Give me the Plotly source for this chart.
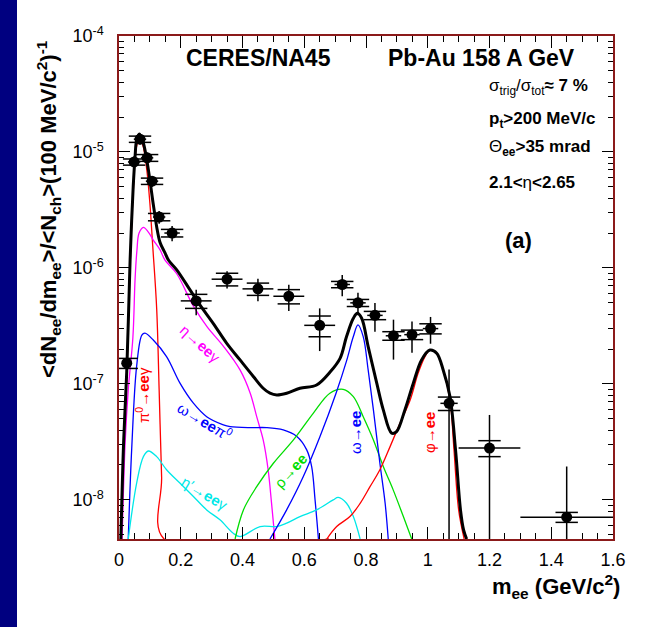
import plotly.graph_objects as go

# ---------------- data ----------------
FLOOR = 4.6e-9  # lower edge of the y range; curves at this level run along the frame

# measured dielectron yield
M_EE = [0.025, 0.049, 0.068, 0.091, 0.107, 0.130, 0.172, 0.25, 0.35, 0.45, 0.55, 0.65,
        0.723, 0.774, 0.829, 0.889, 0.949, 1.009, 1.069, 1.20, 1.45]
DM = [0.008, 0.02, 0.02, 0.02, 0.02, 0.02, 0.025, 0.05, 0.05, 0.05, 0.05, 0.05,
      0.025, 0.025, 0.025, 0.025, 0.025, 0.025, 0.028, 0.10, 0.15]
YIELD = [1.51e-7, 8.2e-6, 1.29e-5, 8.9e-6, 5.6e-6, 2.75e-6, 2.0e-6, 5.2e-7, 8.0e-7, 6.6e-7,
         5.7e-7, 3.2e-7, 7.2e-7, 5.0e-7, 3.9e-7, 2.6e-7, 2.66e-7, 3.0e-7, 6.8e-8, 2.8e-8, 7.1e-9]
STAT = [0.32e-7, 1.0e-6, 1.3e-6, 1.0e-6, 0.6e-6, 0.35e-6, 0.3e-6, 1.3e-7, 1.35e-7, 1.45e-7,
        1.45e-7, 1.28e-7, 1.5e-7, 1.1e-7, 1.08e-7, 0.98e-7, 0.8e-7, 0.78e-7, 6.5e-8, 2.6e-8, 1.23e-8]
SYST = [0.15e-7, 0.5e-6, 0.8e-6, 0.6e-6, 0.35e-6, 0.2e-6, 0.15e-6, 0.72e-7, 1.0e-7, 0.8e-7,
        0.8e-7, 0.65e-7, 0.45e-7, 0.35e-7, 0.32e-7, 0.22e-7, 0.25e-7, 0.3e-7, 0.9e-8, 0.44e-8, 0.7e-9]

# hadronic cocktail: total
TOT_M = [0.006, 0.015, 0.025, 0.036, 0.041, 0.046, 0.052, 0.057, 0.066, 0.079, 0.090, 0.100,
         0.109, 0.117, 0.122, 0.133, 0.149, 0.160, 0.187, 0.230, 0.262, 0.305, 0.349, 0.392,
         0.435, 0.467, 0.489, 0.511, 0.543, 0.586, 0.640, 0.683, 0.716, 0.737, 0.759, 0.772,
         0.786, 0.807, 0.835, 0.856, 0.883, 0.899, 0.926, 0.953, 0.980, 1.007, 1.029, 1.050,
         1.072, 1.090, 1.106, 1.116, 1.126]
TOT_Y = [FLOOR, 3.16e-8, 1.26e-7, 1.17e-6, 2.57e-6, 5.01e-6, 9.12e-6, 1.26e-5, 1.43e-5, 1.19e-5,
         8.53e-6, 5.74e-6, 3.85e-6, 2.77e-6, 2.27e-6, 1.66e-6, 1.35e-6, 1.17e-6, 9.62e-7, 6.46e-7,
         4.80e-7, 3.33e-7, 2.24e-7, 1.61e-7, 1.16e-7, 9.18e-8, 8.32e-8, 8.04e-8, 8.32e-8, 9.18e-8,
         9.79e-8, 1.26e-7, 1.66e-7, 2.56e-7, 3.68e-7, 4.06e-7, 3.68e-7, 2.10e-7, 1.01e-7, 5.97e-8,
         3.76e-8, 3.88e-8, 5.97e-8, 1.01e-7, 1.61e-7, 1.96e-7, 1.84e-7, 1.32e-7, 7.78e-8, 2.70e-8,
         8.20e-9, 5.51e-9, FLOOR]

# pi0 -> ee gamma
PI0_M = [0.006, 0.015, 0.025, 0.036, 0.046, 0.057, 0.066, 0.077, 0.090, 0.100, 0.109, 0.122,
         0.130, 0.138, 0.146, 0.68]
PI0_Y = [FLOOR, 2.51e-8, 1.12e-7, 1.05e-6, 4.47e-6, 1.12e-5, 1.29e-5, 1.15e-5, 7.00e-6, 3.61e-6,
         1.58e-6, 4.47e-7, 8.91e-8, 1.58e-8, FLOOR, FLOOR]

# eta -> ee gamma
ETA_M = [0.010, 0.020, 0.030, 0.045, 0.052, 0.058, 0.065, 0.079, 0.095, 0.111, 0.133, 0.149,
         0.187, 0.241, 0.285, 0.339, 0.392, 0.425, 0.446, 0.467, 0.483, 0.494, 0.505]
ETA_Y = [FLOOR, 3.16e-8, 8.91e-8, 2.51e-7, 7.94e-7, 1.41e-6, 2.00e-6, 2.24e-6, 2.04e-6, 1.74e-6,
         1.43e-6, 1.17e-6, 8.91e-7, 4.68e-7, 3.12e-7, 2.10e-7, 1.32e-7, 8.32e-8, 5.22e-8, 3.29e-8,
         1.82e-8, 9.42e-9, FLOOR]

# omega -> ee pi0
OMD_M = [0.030, 0.041, 0.057, 0.074, 0.084, 0.111, 0.154, 0.198, 0.241, 0.284, 0.338, 0.360,
         0.424, 0.478, 0.532, 0.576, 0.608, 0.624, 0.635, 0.646]
OMD_Y = [FLOOR, 2.70e-8, 1.41e-7, 2.64e-7, 2.74e-7, 2.39e-7, 1.72e-7, 1.01e-7, 6.82e-8, 5.22e-8,
         4.44e-8, 4.29e-8, 4.20e-8, 4.20e-8, 4.01e-8, 3.52e-8, 2.70e-8, 1.94e-8, 1.0e-8, FLOOR]

# eta' -> ee gamma
ETAP_M = [0.030, 0.057, 0.079, 0.095, 0.122, 0.154, 0.198, 0.241, 0.284, 0.327, 0.370, 0.392,
          0.457, 0.511, 0.543, 0.586, 0.640, 0.694, 0.710, 0.737, 0.759, 0.781]
ETAP_Y = [FLOOR, 1.39e-8, 2.36e-8, 2.64e-8, 2.36e-8, 1.82e-8, 1.39e-8, 1.07e-8, 8.20e-9, 6.73e-9,
          5.16e-9, 4.83e-9, 5.89e-9, 5.89e-9, 6.30e-9, 7.18e-9, 8.20e-9, 1.0e-8, 1.05e-8, 9.35e-9,
          7.18e-9, FLOOR]

# rho -> ee
RHO_M = [0.376, 0.403, 0.446, 0.500, 0.565, 0.629, 0.683, 0.726, 0.759, 0.791, 0.824, 0.856,
         0.888, 0.921, 0.948]
RHO_Y = [FLOOR, 8.20e-9, 1.30e-8, 2.07e-8, 3.29e-8, 5.58e-8, 8.32e-8, 8.99e-8, 7.78e-8, 5.22e-8,
         3.29e-8, 1.94e-8, 1.22e-8, 7.18e-9, FLOOR]

# omega -> ee
OMEE_M = [0.489, 0.543, 0.597, 0.651, 0.703, 0.737, 0.759, 0.774, 0.791, 0.807, 0.824, 0.845,
          0.862, 0.872]
OMEE_Y = [FLOOR, 8.20e-9, 1.59e-8, 3.52e-8, 8.32e-8, 1.58e-7, 2.56e-7, 3.23e-7, 2.56e-7, 1.32e-7,
          5.97e-8, 2.07e-8, 9.35e-9, FLOOR]

# phi -> ee
PHI_M = [0.673, 0.705, 0.748, 0.781, 0.813, 0.845, 0.878, 0.910, 0.943, 0.969, 0.991, 1.007,
         1.029, 1.050, 1.072, 1.085, 1.100, 1.118]
PHI_Y = [FLOOR, 5.89e-9, 7.18e-9, 9.33e-9, 1.30e-8, 1.82e-8, 2.88e-8, 4.58e-8, 7.28e-8, 1.24e-7,
         1.72e-7, 1.96e-7, 1.84e-7, 1.32e-7, 7.28e-8, 2.70e-8, 8.20e-9, FLOOR]

X_TICKS = [0, 0.2, 0.4, 0.6, 0.8, 1.0, 1.2, 1.4, 1.6]
X_TICK_TEXT = ["0", "0.2", "0.4", "0.6", "0.8", "1", "1.2", "1.4", "1.6"]
Y_DECADES = [-8, -7, -6, -5, -4]

# ---------------- styling ----------------
RED, MAGENTA, BLUE, CYAN, GREEN = "#ff0000", "#ff00ff", "#0000ff", "#00e8e8", "#00dd00"
NAVY = "#000080"
FRAME = "#8b1a1a"
FONT = "Liberation Sans, Arial, Helvetica, sans-serif"

W, H = 669, 627
ML, MR, MT, MB = 119, 56, 36, 88
PW, PH = W - ML - MR, H - MT - MB

fig = go.Figure()

components = [
    (PI0_M, PI0_Y, RED),
    (ETA_M, ETA_Y, MAGENTA),
    (OMD_M, OMD_Y, BLUE),
    (ETAP_M, ETAP_Y, CYAN),
    (RHO_M, RHO_Y, GREEN),
    (OMEE_M, OMEE_Y, BLUE),
    (PHI_M, PHI_Y, RED),
]
for xs, ys, col in components:
    fig.add_trace(go.Scatter(x=xs, y=ys, mode="lines", line=dict(color=col, width=1.3),
                             line_shape="spline", hoverinfo="skip", showlegend=False))

fig.add_trace(go.Scatter(x=TOT_M, y=TOT_Y, mode="lines", line=dict(color="black", width=3),
                         line_shape="spline", showlegend=False))

# systematic error caps
sys_hi = [y + s for y, s in zip(YIELD, SYST)]
sys_lo = [y - s for y, s in zip(YIELD, SYST)]
for ys in (sys_hi, sys_lo):
    fig.add_trace(go.Scatter(x=M_EE, y=ys, mode="markers", showlegend=False,
                             marker=dict(symbol="line-ew", size=16, color="black",
                                         line=dict(color="black", width=1.5))))

# data points with statistical errors and bin widths
fig.add_trace(go.Scatter(
    x=M_EE, y=YIELD, mode="markers", showlegend=False,
    marker=dict(symbol="circle", size=11, color="black"),
    error_y=dict(type="data", array=STAT, width=0, thickness=1.5, color="black"),
    error_x=dict(type="data", array=DM, width=0, thickness=1.5, color="black"),
))

# ---------------- axes ----------------
minor_y = [k * 10.0 ** e for e in range(-9, -4) for k in range(2, 10)]
fig.update_xaxes(
    range=[0, 1.6], tickmode="array", tickvals=X_TICKS, ticktext=X_TICK_TEXT,
    showline=True, linecolor=FRAME, linewidth=1.5, mirror="allticks",
    ticks="inside", ticklen=12, tickcolor="black", tickwidth=1,
    minor=dict(dtick=0.05, tick0=0, ticks="inside", ticklen=6, tickcolor="black", tickwidth=1),
    showgrid=False, zeroline=False,
    tickfont=dict(family=FONT, size=18, color="black"), ticklabelstandoff=4,
)
fig.update_yaxes(
    type="log", range=[-8.3372, -4],
    tickmode="array", tickvals=[10.0 ** d for d in Y_DECADES],
    ticktext=[f"10<sup>{d}</sup>" for d in Y_DECADES],
    showline=True, linecolor=FRAME, linewidth=1.5, mirror="allticks",
    ticks="inside", ticklen=11, tickcolor="black", tickwidth=1,
    minor=dict(tickmode="array", tickvals=minor_y, ticks="inside", ticklen=5,
               tickcolor="black", tickwidth=1),
    showgrid=False, zeroline=False,
    tickfont=dict(family=FONT, size=18, color="black"), ticklabelstandoff=10,
)

# ---------------- text ----------------
annotations = [
    dict(x=0.2834, y=0.9563, text="<b>CERES/NA45</b>", size=23),
    dict(x=0.7328, y=0.9563, text="<b>Pb-Au 158 A GeV</b>", size=23),
    dict(x=0.745, y=0.8986, text="σ<sub>trig</sub>/σ<sub>tot</sub><b>≈ 7 %</b>", size=17, xanchor="left"),
    dict(x=0.745, y=0.833, text="<b>p<sub>t</sub>&gt;200 MeV/c</b>", size=17, xanchor="left"),
    dict(x=0.745, y=0.7773, text="Θ<b><sub>ee</sub>&gt;35 mrad</b>", size=17, xanchor="left"),
    dict(x=0.745, y=0.7078, text="<b>2.1&lt;</b>η<b>&lt;2.65</b>", size=17, xanchor="left"),
    dict(x=0.8077, y=0.5944, text="<b>(a)</b>", size=22),
    # curve labels
    dict(x=0.164, y=0.3877, text="η→<b>ee</b>γ", size=15, color=MAGENTA, angle=42),
    dict(x=0.0486, y=0.2863, text="π<sup>0</sup>→<b>ee</b>γ", size=15, color=RED, angle=-90),
    dict(x=0.174, y=0.2346, text="ω→<b>ee</b>π<sup>0</sup>", size=15, color=BLUE, angle=31),
    dict(x=0.174, y=0.0895, text="η′→<b>ee</b>γ", size=15, color=CYAN, angle=31),
    dict(x=0.348, y=0.1352, text="ρ→<b>ee</b>", size=15, color=GREEN, angle=-48),
    dict(x=0.4777, y=0.2127, text="ω→<b>ee</b>", size=15, color=BLUE, angle=-90),
    dict(x=0.6275, y=0.2127, text="φ→<b>ee</b>", size=15, color=RED, angle=-90),
    # axis titles
    dict(x=1.018, y=-0.094, text="<b>m<sub>ee</sub> (GeV/c<sup>2</sup>)</b>", size=22, xanchor="right"),
    dict(x=-0.1437, y=0.996,
         text="<b>&lt;dN<sub>ee</sub>/dm<sub>ee</sub>&gt;/&lt;N<sub>ch</sub>&gt;(100 MeV/c<sup>2</sup>)<sup>-1</sup></b>",
         size=22, angle=-90, yanchor="top"),
]
for a in annotations:
    fig.add_annotation(
        x=a["x"], y=a["y"], xref="paper", yref="paper", text=a["text"], showarrow=False,
        xanchor=a.get("xanchor", "center"), yanchor=a.get("yanchor", "middle"),
        textangle=a.get("angle", 0),
        font=dict(family=FONT, size=a["size"], color=a.get("color", "black")),
    )

# dark page border: a narrow band down the left edge
fig.add_shape(type="rect", xref="paper", yref="paper",
              x0=-ML / PW, x1=(17 - ML) / PW, y0=-MB / PH, y1=(H - MB) / PH,
              fillcolor=NAVY, line=dict(width=0), layer="below")

fig.update_layout(
    width=W, height=H,
    margin=dict(l=ML, r=MR, t=MT, b=MB),
    paper_bgcolor="white", plot_bgcolor="white",
    font=dict(family=FONT, color="black"),
    showlegend=False,
)

fig.write_html("out.html")
